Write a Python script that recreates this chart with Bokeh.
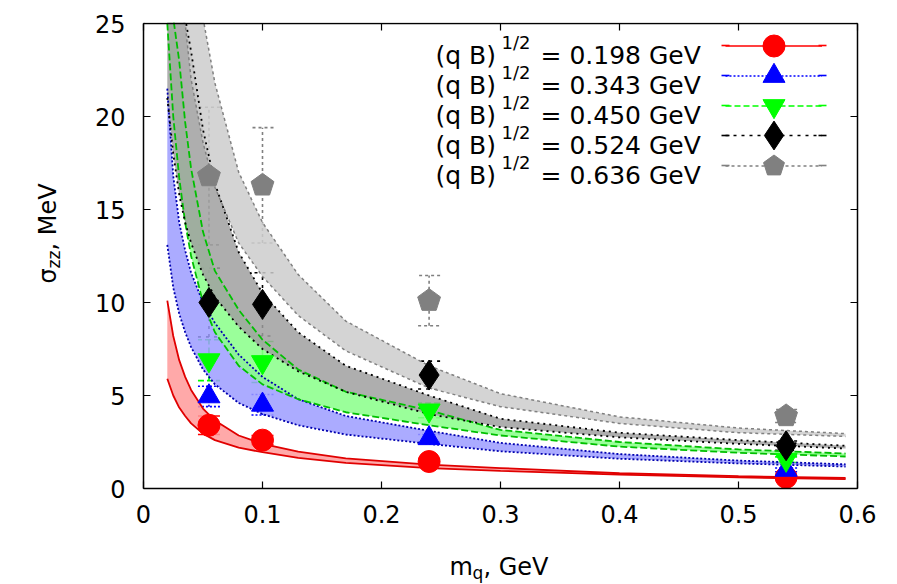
import math
from bokeh.plotting import figure
from bokeh.models import (ColumnDataSource, Whisker, TeeHead, Label, Legend, LegendItem,
                          FixedTicker, LinearAxis, Range1d, BoxAnnotation)
from bokeh.embed import file_html
from bokeh.resources import INLINE

FONT = "DejaVu Sans"

# ---------------- data ----------------
x_ticks = [0, 0.1, 0.2, 0.3, 0.4, 0.5, 0.6]
x_tick_labels = ["0", "0.1", "0.2", "0.3", "0.4", "0.5", "0.6"]
y_ticks = [0, 5, 10, 15, 20, 25]
y_tick_labels = ["0", "5", "10", "15", "20", "25"]

qB_labels = ["0.198", "0.343", "0.450", "0.524", "0.636"]

m_q = [0.055, 0.1, 0.24, 0.54]
sigma_198 = [3.4, 2.6, 1.45, 0.6]
err_198 = [0.5, 0.25, 0.12, 0.05]
sigma_343 = [4.95, 4.5, 2.7, 1.0]
err_343 = [0.55, 0.55, 0.2, 0.1]
sigma_450 = [6.9, 6.8, 4.2, 1.55]
err_450 = [1.1, 1.1, 0.4, 0.15]
sigma_524 = [10.0, 9.9, 6.1, 2.3]
err_524 = [1.85, 1.7, 0.75, 0.25]
sigma_636 = [16.8, 16.3, 10.1, 3.9]
err_636 = [3.7, 3.1, 1.35, 0.35]

# theory bands, read at these masses (25.3 marks "off the top of the chart")
band_m = [0.02, 0.025, 0.03, 0.035, 0.04, 0.05, 0.06, 0.08, 0.1, 0.13, 0.17, 0.24, 0.3, 0.4, 0.5, 0.59]
band_lo_198 = [5.9, 5.0, 4.35, 3.9, 3.5, 2.95, 2.6, 2.2, 1.95, 1.65, 1.38, 1.1, 0.95, 0.75, 0.6, 0.5]
band_hi_198 = [10.1, 8.2, 6.9, 6.0, 5.3, 4.3, 3.65, 2.85, 2.4, 1.98, 1.62, 1.28, 1.1, 0.82, 0.66, 0.57]
band_lo_343 = [13.1, 10.8, 9.4, 8.4, 7.6, 6.4, 5.6, 4.6, 4.0, 3.4, 2.9, 2.4, 2.0, 1.6, 1.35, 1.18]
band_hi_343 = [21.5, 16.8, 14.3, 12.8, 11.6, 10.0, 8.9, 7.2, 6.0, 4.8, 3.9, 3.1, 2.45, 1.85, 1.5, 1.3]
band_lo_450 = [25.0, 20.0, 16.7, 14.3, 12.5, 10.0, 8.4, 6.6, 5.6, 4.8, 4.1, 3.4, 2.85, 2.25, 1.92, 1.72]
band_hi_450 = [25.3, 25.3, 23.0, 19.7, 17.2, 13.8, 11.7, 9.6, 8.0, 6.4, 5.2, 4.2, 3.15, 2.5, 2.1, 1.88]
band_lo_524 = [21.0, 18.0, 15.8, 14.3, 13.2, 11.5, 10.3, 8.7, 7.5, 6.3, 5.2, 4.0, 3.3, 2.75, 2.4, 2.15]
band_hi_524 = [25.3, 25.3, 25.3, 25.3, 23.5, 19.3, 16.4, 12.7, 10.5, 8.4, 6.6, 5.0, 3.75, 3.0, 2.6, 2.3]
band_lo_636 = [25.3, 25.3, 25.3, 25.0, 22.0, 18.6, 16.2, 13.2, 11.4, 9.3, 7.4, 5.4, 4.4, 3.5, 3.0, 2.8]
band_hi_636 = [25.3, 25.3, 25.3, 25.3, 25.3, 25.3, 21.8, 17.0, 14.3, 11.5, 9.0, 6.6, 5.1, 3.85, 3.25, 2.95]

# ---------------- figure ----------------
W, H = 897, 584
BOX_L, BOX_R, BOX_T, BOX_B = 143, 857, 23, 488   # pixel box of the data area
X0, X1, Y0, Y1 = 0.0, 0.6, 0.0, 25.0
sx = (BOX_R - BOX_L) / (X1 - X0)
sy = (BOX_B - BOX_T) / (Y1 - Y0)

p = figure(width=W, height=H,
           x_range=Range1d(X0 - BOX_L / sx, X1 + (W - BOX_R) / sx),
           y_range=Range1d(Y0 - (H - BOX_B) / sy, Y1 + BOX_T / sy),
           x_axis_type=None, y_axis_type=None,
           output_backend="svg", toolbar_location=None, min_border=0)
p.background_fill_color = "white"
p.border_fill_color = "white"
p.outline_line_color = None


def make_axis(fixed, ticks, labels, bounds, show_labels, standoff):
    return LinearAxis(fixed_location=fixed, bounds=bounds, ticker=FixedTicker(ticks=ticks),
                      major_label_overrides={t: (l if show_labels else "") for t, l in zip(ticks, labels)},
                      major_label_text_font=FONT, major_label_text_font_size="24px",
                      major_label_text_color="black", major_label_standoff=standoff,
                      major_tick_in=7, major_tick_out=0, minor_tick_in=0, minor_tick_out=0,
                      axis_line_color="black", axis_line_width=1.5,
                      major_tick_line_color="black", major_tick_line_width=1.2,
                      level="overlay")


p.add_layout(make_axis(Y0, x_ticks, x_tick_labels, (X0, X1), True, 16), "below")
p.add_layout(make_axis(X0, y_ticks, y_tick_labels, (Y0, Y1), True, 18), "left")
p.add_layout(make_axis(Y1, x_ticks, x_tick_labels, (X0, X1), False, 0), "above")
p.add_layout(make_axis(X1, y_ticks, y_tick_labels, (Y0, Y1), False, 0), "right")

# ---------------- bands (drawn in this order) ----------------
bands = [
    (band_lo_343, band_hi_343, "#9c9cff", "#0000b0", "2 2", 1.8),
    (band_lo_450, band_hi_450, "#88ff88", "#00c000", "7 3", 1.8),
    (band_lo_524, band_hi_524, "#a0a0a0", "#000000", "2 4", 1.8),
    (band_lo_636, band_hi_636, "#cdcdcd", "#808080", "3 3", 1.5),
    (band_lo_198, band_hi_198, "#ff9a9a", "#e00000", "solid", 1.8),
]
for lo, hi, fc, lc, dash, lw in bands:
    p.varea(x=band_m, y1=lo, y2=hi, fill_color=fc, fill_alpha=0.85)
for lo, hi, fc, lc, dash, lw in bands:
    p.line(band_m, lo, line_color=lc, line_dash=dash, line_width=lw)
    p.line(band_m, hi, line_color=lc, line_dash=dash, line_width=lw)

# white mask above the top of the data box
p.add_layout(BoxAnnotation(left=X0 + 1.0 / sx, right=X1 - 1.0 / sx, bottom=Y1 + 1.0 / sy,
                           top=Y1 + 40, fill_color="white", fill_alpha=1.0, line_color=None,
                           level="overlay"))

# ---------------- points with error bars ----------------
series = [
    (sigma_198, err_198, "#ff0000", "solid", "circle", 22),
    (sigma_343, err_343, "#0000ff", "2 2", "triangle", 22),
    (sigma_450, err_450, "#00ff00", "6 3", "inverted_triangle", 22),
    (sigma_524, err_524, "#000000", "3 5", "diamond", 30),
    (sigma_636, err_636, "#808080", "3 3", "ngon", 12),
]
marker_renderers = []
for vals, errs, col, dash, marker, size in series:
    src = ColumnDataSource(dict(x=m_q, y=vals,
                                lower=[v - e for v, e in zip(vals, errs)],
                                upper=[v + e for v, e in zip(vals, errs)]))
    wh = Whisker(base="x", lower="lower", upper="upper", source=src,
                 line_color=col, line_dash=dash, line_width=1.6,
                 lower_head=TeeHead(size=22, line_color=col, line_dash=dash, line_width=1.6),
                 upper_head=TeeHead(size=22, line_color=col, line_dash=dash, line_width=1.6))
    p.add_layout(wh)
    if marker == "ngon":
        try:
            r = p.ngon(x="x", y="y", radius=size, radius_units="screen", n=5,
                       angle=0, source=src, fill_color=col, line_color=col)
        except Exception:
            r = p.scatter(x="x", y="y", marker="hex", size=24, source=src,
                          fill_color=col, line_color=col)
    else:
        r = p.scatter(x="x", y="y", marker=marker, size=size, source=src,
                      fill_color=col, line_color=col)
    marker_renderers.append(r)

# ---------------- legend (one row per series, with end caps) ----------------
row_y = [45, 75, 105, 135, 165]
glyph_h = [55, 55, 55, 72, 55]
LEG_X0, LEG_W = 725, 97
nan = float("nan")


def legend_box(renderers, x, ry, w, h):
    leg = Legend(items=[LegendItem(label=" ", renderers=renderers)],
                 location=(x, H - (ry + h / 2)), orientation="vertical",
                 glyph_width=w, glyph_height=h, spacing=0, padding=0, margin=0,
                 label_standoff=0, label_width=0, label_height=0,
                 label_text_font_size="10px", background_fill_alpha=0,
                 border_line_color=None, level="overlay")
    p.add_layout(leg)


for (vals, errs, col, dash, marker, size), mr, ry, gh in zip(series, marker_renderers, row_y, glyph_h):
    lr = p.line(x=[nan], y=[nan], line_color=col, line_dash=dash, line_width=1.6)
    legend_box([lr, mr], LEG_X0, ry, LEG_W, gh)
    cap = p.scatter(x=[nan], y=[nan], marker="dash", angle=math.pi / 2,
                    line_color=col, line_width=1.6)
    legend_box([cap], LEG_X0 - 10, ry, 20, 20)
    legend_box([cap], LEG_X0 + LEG_W - 10, ry, 20, 20)


def add_text(txt, X, Y, size, angle=0.0):
    p.add_layout(Label(x=X, y=H - Y, x_units="screen", y_units="screen", text=txt,
                       text_font=FONT, text_font_size=f"{size}px", angle=angle,
                       text_align="left", text_baseline="alphabetic", text_color="black",
                       level="overlay"))


for lab, ry in zip(qB_labels, row_y):
    add_text("(q B)", 435, ry + 10, 25)
    add_text("1/2", 501, ry - 3, 18)
    add_text(f"= {lab} GeV", 540, ry + 10, 25)

# axis titles
add_text("m", 449, 566, 24)
add_text("q", 472, 572, 17)
add_text(", GeV", 483, 566, 24)

add_text("\u03c3", 47, 283, 24, angle=math.pi / 2)
add_text("zz", 53, 268, 17, angle=math.pi / 2)
add_text(", MeV", 47, 250, 24, angle=math.pi / 2)

open("out.html", "w").write(file_html(p, INLINE))
